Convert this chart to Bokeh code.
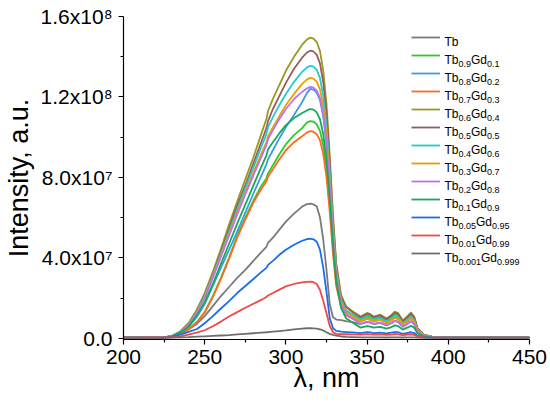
from bokeh.plotting import figure
from bokeh.models import Range1d, FixedTicker, Legend, LegendItem, Label
from bokeh.embed import file_html
from bokeh.resources import INLINE

# ---------------- data (intensity in units of 1e6 a.u.) ----------------
wavelength = [200, 225, 230, 235, 240, 245, 250, 255, 260, 265, 270, 275, 280, 285, 288, 289, 292, 296, 300, 305, 310,
              313, 315, 317, 319, 321, 323, 325, 327, 329, 331, 334, 337,
              341, 346, 348, 350, 352, 354, 358, 362, 365, 367, 369, 372, 375, 377, 379, 381, 385, 390, 400, 450]

tb = [0.3, 0.5, 0.8, 2.5, 4.5, 7, 11, 16, 21, 25.5, 30, 34, 38.5, 43, 45.5, 47.5, 50, 54, 58, 62, 65.5,
      66.7, 67, 66.6, 65.5, 60, 49, 34, 17, 10.5, 9.3, 9, 8.5,
      8, 7.1, 7.6, 8.2, 7.8, 7.1, 7.7, 6.4, 7.5, 8.6, 8.2, 5.8, 7.2, 8.4, 7, 3.3, 1.2, 0.55, 0.3, 0.3]
tb09 = [0.3, 0.5, 0.9, 2.2, 4.5, 8, 13, 21, 30, 40, 51, 60, 68.5, 76, 79.5, 82, 86, 91.5, 96.5, 101, 104.5,
        107.4, 108, 107.7, 106.4, 103.1, 96.1, 84.2, 65.9, 44.3, 27, 17, 13.5,
        11.8, 9.8, 10.6, 11.4, 10.8, 9.8, 10.7, 8.9, 10.5, 12, 11.4, 8, 10, 11.6, 9.7, 4.6, 1.6, 0.7, 0.35, 0.3]
tb08 = [0.3, 0.5, 1, 2.7, 5.6, 10.5, 17, 26, 35, 44, 53, 62.5, 72, 81, 86.5, 89, 93.5, 99.5, 105, 111, 117.5,
        122, 124, 123.6, 122.1, 118.4, 110.4, 96.7, 75.6, 50.8, 31, 18, 13.5,
        11, 8.6, 9.3, 10, 9.5, 8.6, 9.4, 7.8, 9.2, 10.5, 10, 7, 8.8, 10.2, 8.5, 4, 1.4, 0.65, 0.35, 0.3]
tb07 = [0.3, 0.5, 0.9, 2.2, 4.4, 7.8, 12.8, 20.5, 29.5, 39.5, 50, 59, 67.5, 74.5, 78, 80.5, 84, 89, 93.5, 97.5, 100.5,
        102.4, 103, 102.7, 101.5, 98.4, 91.7, 80.3, 62.8, 42.2, 25.8, 15.5, 11.5,
        9.8, 8.3, 9, 9.7, 9.2, 8.3, 9.1, 7.5, 8.9, 10.2, 9.7, 6.8, 8.5, 9.9, 8.2, 3.9, 1.4, 0.65, 0.35, 0.3]
tb06 = [0.3, 0.5, 1.3, 3.5, 7.5, 14, 22.5, 33, 44.5, 56.5, 68, 79, 90, 102, 109, 113, 119, 126, 133, 140, 146,
        148.6, 149.5, 149, 147.3, 142.8, 133, 116.6, 91.2, 61.3, 37.4, 21.5, 16,
        13.5, 10.8, 11.7, 12.6, 12, 10.8, 11.8, 9.8, 11.6, 13.2, 12.6, 8.8, 11.1, 12.8, 10.7, 5, 1.8, 0.8, 0.4, 0.3]
tb05 = [0.3, 0.5, 1.2, 3.3, 7, 13.3, 21.5, 31.5, 43, 54.5, 66, 76, 87, 98, 104.5, 108, 114, 120.5, 127, 134, 139.5,
        142.1, 143, 142.6, 140.9, 136.6, 127.3, 111.5, 87.2, 58.6, 35.8, 20.5, 15.5,
        13, 10.5, 11.3, 12.2, 11.6, 10.5, 11.4, 9.5, 11.2, 12.8, 12.2, 8.5, 10.7, 12.4, 10.4, 4.9, 1.7, 0.8, 0.4, 0.3]
tb04 = [0.3, 0.5, 1.2, 3.2, 6.8, 13, 21, 31, 42, 53, 64, 74.5, 85, 95.5, 101.5, 105, 110, 116, 121.5, 127.5, 132.5,
        134.7, 135.5, 135.1, 133.5, 129.4, 120.6, 105.7, 82.7, 55.6, 33.9, 19, 14,
        11.8, 9.2, 10, 10.7, 10.2, 9.2, 10, 8.3, 9.8, 11.2, 10.7, 7.5, 9.4, 10.9, 9.1, 4.3, 1.5, 0.7, 0.35, 0.3]
tb03 = [0.3, 0.5, 1.1, 3.1, 6.6, 12.6, 20.5, 30.5, 41, 52, 62.5, 72.5, 82.5, 92, 97.5, 100.5, 105, 110.5, 116, 121.5, 126.5,
        128.7, 129.5, 129.1, 127.6, 123.7, 115.3, 101, 79, 53.1, 32.4, 18, 13,
        11, 8.4, 9.1, 9.8, 9.3, 8.4, 9.2, 7.6, 9, 10.3, 9.8, 6.9, 8.6, 10, 8.3, 3.9, 1.4, 0.65, 0.35, 0.3]
tb02 = [0.3, 0.5, 1.1, 3, 6.4, 12.3, 20, 30, 40.5, 51, 61.5, 71.5, 81, 90.5, 96, 99, 103.5, 109, 114, 119, 122.5,
        124.3, 125, 124.6, 123.1, 119.4, 111.3, 97.5, 76.3, 51.3, 31.3, 17, 12,
        9.8, 7.1, 7.7, 8.3, 7.9, 7.1, 7.8, 6.5, 7.6, 8.7, 8.3, 5.8, 7.3, 8.5, 7.1, 3.3, 1.2, 0.55, 0.3, 0.3]
tb01 = [0.3, 0.5, 1, 2.8, 5.8, 11, 18, 27, 37, 47, 57, 66.5, 76, 85.5, 91, 94, 97.5, 102, 106, 109.5, 112,
        113.3, 114, 113.7, 112.3, 108.9, 101.5, 88.9, 69.5, 46.7, 28.5, 15, 10,
        7.8, 5.3, 5.7, 6.1, 5.8, 5.3, 5.7, 4.8, 5.6, 6.4, 6.1, 4.3, 5.4, 6.2, 5.2, 2.5, 0.9, 0.45, 0.3, 0.3]
tb005 = [0.3, 0.4, 0.7, 1.8, 3.2, 4.5, 7.5, 11, 14.8, 18.5, 22.5, 26, 29.5, 33, 35, 36.5, 38.5, 41.5, 44, 46.5, 48.5,
         49.3, 49.5, 49.2, 48, 44, 35, 23, 10, 5, 3.7, 3.3, 3.1,
         2.9, 2.6, 2.8, 3, 2.9, 2.6, 2.8, 2.4, 2.8, 3.1, 3, 2.2, 2.7, 3, 2.6, 1.3, 0.6, 0.4, 0.3, 0.3]
tb001 = [0.3, 0.4, 0.5, 1, 1.8, 2.8, 4, 6, 8.3, 10.8, 13, 15.2, 17.2, 19.2, 20.5, 21.3, 22.5, 24.2, 25.8, 27, 27.8,
         28.1, 28.2, 27.9, 27, 24, 18.5, 12.5, 6.1, 3, 2.2, 2, 2,
         1.9, 1.8, 1.9, 2, 1.95, 1.8, 1.9, 1.7, 1.85, 2, 1.95, 1.6, 1.8, 1.9, 1.7, 1, 0.5, 0.3, 0.3, 0.3]
tb0001 = [0.2, 0.2, 0.3, 0.5, 0.6, 0.8, 1.0, 1.2, 1.4, 1.6, 1.9, 2.2, 2.5, 2.8, 3.0, 3.1, 3.3, 3.6, 3.9, 4.4, 4.8,
          5, 5, 4.95, 4.8, 4.45, 3.9, 3, 2.2, 1.7, 1.3, 0.9, 0.7,
          0.6, 0.5, 0.5, 0.5, 0.5, 0.5, 0.5, 0.4, 0.45, 0.5, 0.5, 0.4, 0.45, 0.5, 0.45, 0.3, 0.2, 0.2, 0.2, 0.2]

series = [tb, tb09, tb08, tb07, tb06, tb05, tb04, tb03, tb02, tb01, tb005, tb001, tb0001]
# legend names: (Tb subscript, Gd subscript)
names = [("", ""), ("0.9", "0.1"), ("0.8", "0.2"), ("0.7", "0.3"), ("0.6", "0.4"),
         ("0.5", "0.5"), ("0.4", "0.6"), ("0.3", "0.7"), ("0.2", "0.8"), ("0.1", "0.9"),
         ("0.05", "0.95"), ("0.01", "0.99"), ("0.001", "0.999")]
colors = ["#7a7a7a", "#2bcc2b", "#3d9be0", "#ff6a1e", "#999a22", "#9a5b5b", "#22cccc",
          "#e8a000", "#c070f0", "#14aa5a", "#1a6ee8", "#f24848", "#6e6e6e"]

x_ticks = [200, 250, 300, 350, 400, 450]
x_minor = [225, 275, 325, 375, 425]
y_ticks = [0, 4e7, 8e7, 1.2e8, 1.6e8]
y_minor = [2e7, 6e7, 1e8, 1.4e8]
y_tick_labels = ["0.0", "4.0x10\u2077", "8.0x10\u2077", "1.2x10\u2078", "1.6x10\u2078"]
UNIT = 1e6

# ---------------- figure ----------------
FONT = "Liberation Sans"
BL, BR, BT, BB = 121, 23, 16, 67
FW, FH = 406, 323
W, H = BL + FW + BR, BT + FH + BB
X0, X1 = 200, 450
Y0, Y1 = -0.6e6, 1.6e8

p = figure(width=W, height=H, frame_width=FW, frame_height=FH,
           x_range=Range1d(X0, X1), y_range=Range1d(Y0, Y1),
           output_backend="svg", toolbar_location=None,
           min_border_left=BL, min_border_right=BR, min_border_top=BT, min_border_bottom=BB)
p.outline_line_color = None
p.xgrid.visible = False
p.ygrid.visible = False
p.background_fill_color = "white"
p.border_fill_color = "white"

renderers = []
for ys, c in zip(series, colors):
    r = p.line(wavelength, [v * UNIT for v in ys], line_color=c, line_width=1.8,
               line_join="round")
    renderers.append(r)

for ax in (p.xaxis[0], p.yaxis[0]):
    ax.axis_line_color = "black"
    ax.axis_line_width = 1.2
    ax.major_tick_line_color = "black"
    ax.major_tick_line_width = 1.2
    ax.minor_tick_line_color = "black"
    ax.minor_tick_line_width = 1.2
    ax.major_tick_in = 0
    ax.major_tick_out = 5
    ax.minor_tick_in = 0
    ax.minor_tick_out = 3
    ax.major_label_text_font = FONT
    ax.major_label_text_font_size = "21px"
    ax.major_label_text_color = "black"
    ax.axis_label_text_font = FONT
    ax.axis_label_text_font_size = "27px"
    ax.axis_label_text_font_style = "normal"
    ax.axis_label_text_color = "black"

xa = p.xaxis[0]
xa.ticker = FixedTicker(ticks=x_ticks, minor_ticks=x_minor)
xa.axis_label = "\u03bb, nm"
xa.major_label_standoff = 5
xa.axis_label_standoff = -4

ya = p.yaxis[0]
ya.ticker = FixedTicker(ticks=y_ticks, minor_ticks=y_minor)
ya.major_label_overrides = {float(t): s for t, s in zip(y_ticks, y_tick_labels)}
ya.axis_label = "Intensity, a.u."
ya.major_label_standoff = 6
ya.axis_label_standoff = 4

# ---------------- legend (line samples) ----------------
legend = Legend(items=[LegendItem(label=" ", renderers=[r]) for r in renderers],
                location=(288, 77), orientation="vertical",
                glyph_width=29, glyph_height=18, label_height=18, label_width=1,
                spacing=0, padding=0, margin=0, label_standoff=0,
                label_text_font_size="6px", border_line_color=None,
                background_fill_alpha=0)
p.add_layout(legend)

# ---------------- legend texts with subscripts ----------------
def px_to_x(px):   # px: canvas x
    return X0 + (px - BL) * (X1 - X0) / FW
def py_to_y(py):   # py: canvas y
    return Y1 - (py - BT) * (Y1 - Y0) / FH

ARIAL = {"T": 0.611, "b": 0.556, "G": 0.778, "d": 0.556, ".": 0.278}
def text_w(s, size):
    return sum(ARIAL.get(ch, 0.556) for ch in s) * size

MAIN, SUB = 12, 9
tx = px_to_x(442)
for i, (s1, s2) in enumerate(names):
    ty = py_to_y(37 + 18 * i)
    pieces = [("Tb", MAIN, -4.5)]
    if s1:
        pieces += [(s1, SUB, -8), ("Gd", MAIN, -4.5), (s2, SUB, -8)]
    off = 0.0
    for txt, size, yo in pieces:
        p.add_layout(Label(x=tx, y=ty, x_offset=off, y_offset=yo, text=txt,
                           text_font=FONT, text_font_size=f"{size}px",
                           text_color="black", text_baseline="alphabetic",
                           text_align="left"))
        off += text_w(txt, size)

open("out.html", "w").write(file_html(p, INLINE))
